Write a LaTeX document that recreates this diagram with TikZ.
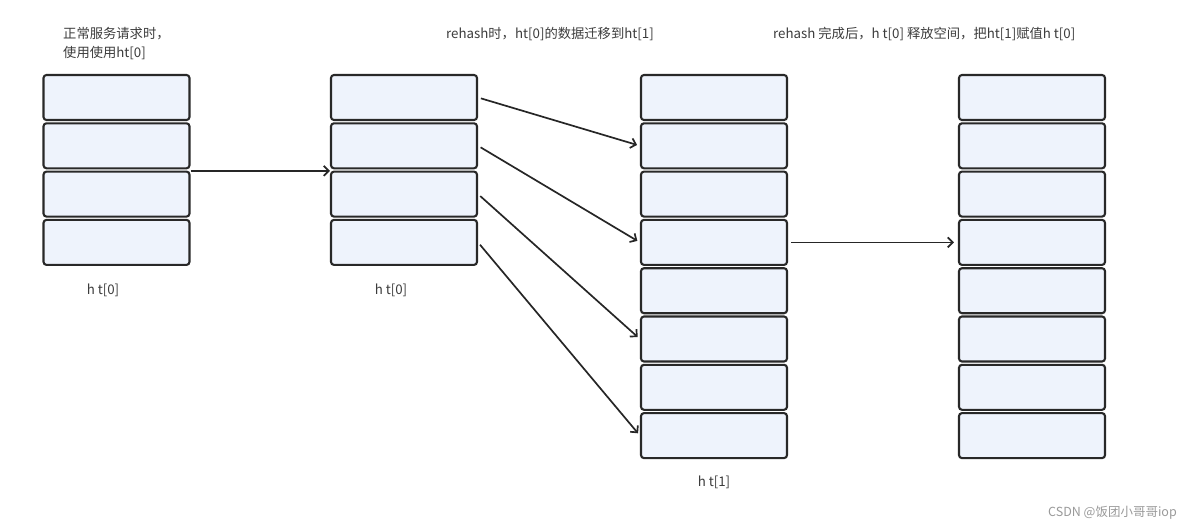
\documentclass[tikz,border=0pt]{standalone}
\usepackage{fontspec}
\setmainfont{Noto Sans CJK SC}
\usetikzlibrary{arrows.meta}

\definecolor{cellfill}{RGB}{238,243,252}
\definecolor{celldraw}{RGB}{40,40,40}
\definecolor{notetext}{RGB}{60,60,60}

\tikzset{
  cell/.style={draw=celldraw, fill=cellfill, line width=2.1pt, rounded corners=3pt,
    minimum width=146pt, minimum height=45pt, inner sep=0pt},
  move/.style={draw=black!85, line width=1.7pt, -{Straight Barb[length=5pt,width=10pt]}},
  note/.style={text=notetext, font=\fontsize{13.3}{19}\selectfont, inner sep=0pt},
}

\begin{document}
\begin{tikzpicture}[x=1pt,y=-1pt]
\useasboundingbox (0,0) rectangle (1184,527);

% The old tables ht[0]
\foreach \i in {1,...,4}{
    \pgfmathsetmacro{\rowy}{97.5+48.3*(\i-1)}
    \node[cell] (old\i) at (116.5,\rowy) {};
    \node[cell] (mid\i) at (404,\rowy) {};
}

% The new tables ht[1]
\foreach \i in {1,...,8}{
    \pgfmathsetmacro{\rowy}{97.5+48.3*(\i-1)}
    \node[cell] (new\i) at (714,\rowy) {};
    \node[cell] (fin\i) at (1032,\rowy) {};
}

% Texts
\node[note, anchor=west, align=left] (hintold) at (63,43.5) {正常服务请求时，\\使用使用ht[0]};
\node[note, anchor=west] (hintmid) at (446,34) {rehash时，ht[0]的数据迁移到ht[1]};
\node[note, anchor=west] (hintfin) at (773,34) {rehash 完成后，h t[0] 释放空间，把ht[1]赋值h t[0]};

\node[note] (nameold) at (103,290) {h t[0]};
\node[note] (namemid) at (391,290) {h t[0]};
\node[note] (namenew) at (714,482) {h t[1]};

\node[note, anchor=east, text=black!40, font=\fontsize{12.5}{14}\selectfont] (mark) at (1177,513) {CSDN @饭团小哥哥iop};

% The moves
\draw[move] ([yshift=-1.5pt]old2.south east) -- ([yshift=-1.5pt]mid2.south west);

\foreach \a/\b in {1/2, 2/4, 3/6, 4/8}{
    \draw[move, shorten <=3pt, shorten >=3pt] (mid\a.east) -- (new\b.west);
}

\draw[move, shorten <=3pt, shorten >=4pt] (new4.east) -- (fin4.west);

\end{tikzpicture}
\end{document}
